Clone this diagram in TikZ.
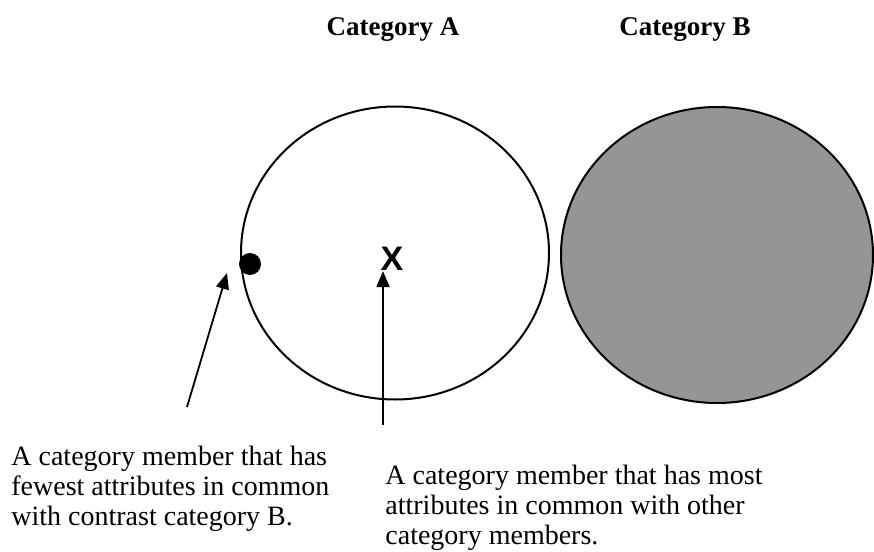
\documentclass[tikz,border=0pt]{standalone}
\usepackage{fontspec}
\setmainfont{Liberation Serif}
\newfontfamily\crossfont{Liberation Sans}
\usetikzlibrary{arrows.meta,shapes.geometric}
\definecolor{CatGray}{HTML}{959595}

\begin{document}
\begin{tikzpicture}[
  x=0.5pt,y=-0.5pt,
  catlabel/.style={font=\fontsize{13.5}{16}\selectfont\bfseries,inner sep=0pt,anchor=base},
  catcircle/.style={ellipse,draw=black,line width=1pt,inner sep=0pt},
  note/.style={font=\fontsize{14}{15}\selectfont,align=left,inner sep=0pt,anchor=north west},
  arrow/.style={-{Triangle[length=8pt,width=6.5pt]},line width=0.9pt}
]
  \useasboundingbox (0,0) rectangle (874,552);
  % the two categories
  \node[catlabel] (labelA) at (393,35) {Category A};
  \node[catlabel] (labelB) at (685,35) {Category B};
  \node[catcircle,minimum width=154pt,minimum height=146.5pt] (catA) at (395,253) {};
  \node[catcircle,fill=CatGray,minimum width=156pt,minimum height=148pt] (catB) at (717,255) {};
  % members
  \node[circle,fill=black,minimum size=11pt,inner sep=0pt] (dot) at (250,264) {};
  \node[font=\crossfont\bfseries\fontsize{17}{17}\selectfont,inner sep=0pt] (cross) at (392,259) {X};
  % notes
  \node[note] (noteA) at (11,446) {A category member that has\\fewest attributes in common\\with contrast category B.};
  \node[note] (noteB) at (385,465) {A category member that has most\\attributes in common with other\\category members.};
  \coordinate (tailA) at (187,407);
  \coordinate (tailB) at (383,425);
  \draw[arrow] (tailA) -- ([shift={(-23,9)}]dot.center);
  \draw[arrow] (tailB) -- (tailB |- cross.south);
\end{tikzpicture}
\end{document}
